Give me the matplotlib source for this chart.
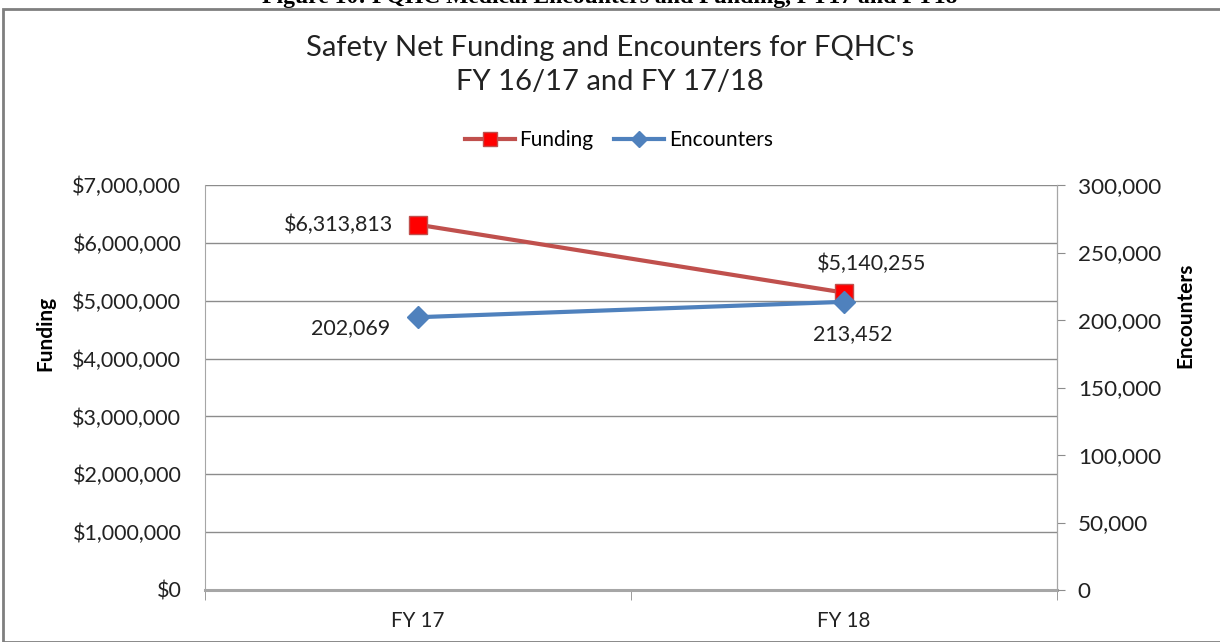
import matplotlib
matplotlib.use("Agg")
import matplotlib.pyplot as plt
from matplotlib.ticker import FuncFormatter, MultipleLocator
from matplotlib.patches import Rectangle

categories = ["FY 17", "FY 18"]
funding = [6313813, 5140255]
encounters = [202069, 213452]
funding_labels = ["$6,313,813", "$5,140,255"]
encounter_labels = ["202,069", "213,452"]

plt.rcParams['font.family'] = ['Lato', 'DejaVu Sans']

W, H = 1220, 642
fig = plt.figure(figsize=(W/100, H/100), dpi=100)

# plot area in pixels
x0, x1, y_top, y_bot = 205, 1057, 185, 590
ax = fig.add_axes([x0/W, 1 - y_bot/H, (x1-x0)/W, (y_bot-y_top)/H])
ax2 = ax.twinx()

grid_c = '#8c8c8c'
txt_c = '#222222'
ax.set_ylim(0, 7000000)
ax.set_xlim(-0.5, 1.5)
ax.yaxis.set_major_locator(MultipleLocator(1000000))
ax.yaxis.set_major_formatter(FuncFormatter(lambda v, p: "${:,.0f}".format(v)))
ax.grid(axis='y', color=grid_c, lw=1)
ax.set_axisbelow(True)
ax.set_xticks([0, 1])
ax.set_xticklabels(categories)
ax.set_xticks([-0.5, 0.5, 1.5], minor=True)
ax.tick_params(axis='x', which='major', length=0, pad=15, labelsize=14.8, colors=txt_c)
ax.tick_params(axis='x', which='minor', length=7, color=grid_c, direction='out')
ax.tick_params(axis='y', length=0, pad=17, labelsize=15.5, colors=txt_c)

ax2.set_ylim(0, 300000)
ax2.yaxis.set_major_locator(MultipleLocator(50000))
ax2.yaxis.set_major_formatter(FuncFormatter(lambda v, p: "{:,.0f}".format(v)))
ax2.tick_params(axis='y', length=6, color=grid_c, pad=9, labelsize=16.2, labelcolor=txt_c)

for a in (ax, ax2):
    for s in a.spines.values():
        s.set_color(grid_c)
    a.spines['top'].set_visible(False)
ax.spines['bottom'].set_linewidth(2.2)
ax.spines['bottom'].set_color('#a6a6a6')
ax2.spines['bottom'].set_visible(False)
ax.spines['left'].set_color('#a6a6a6')
ax2.spines['left'].set_visible(False)
ax2.spines['right'].set_color('#a6a6a6')

xs = [0, 1]
lf, = ax.plot(xs, funding, color='#C0504D', lw=3, marker='s', ms=13,
              mfc='#FF0000', mec='#C0504D', mew=1, zorder=5, label='Funding')
le, = ax2.plot(xs, encounters, color='#4F81BD', lw=3, marker='D', ms=11,
               mfc='#4F81BD', mec='#4F81BD', zorder=5, label='Encounters')

ax.annotate(funding_labels[0], (0, funding[0]), xytext=(-18, 0), textcoords='offset points',
            ha='right', va='center', fontsize=15.5, color=txt_c)
ax.annotate(funding_labels[1], (1, funding[1]), xytext=(20, 13), textcoords='offset points',
            ha='center', va='bottom', fontsize=15.5, color=txt_c)
ax2.annotate(encounter_labels[0], (0, encounters[0]), xytext=(-20, -8), textcoords='offset points',
             ha='right', va='center', fontsize=15.5, color=txt_c)
ax2.annotate(encounter_labels[1], (1, encounters[1]), xytext=(6, -23), textcoords='offset points',
             ha='center', va='center', fontsize=15.5, color=txt_c)

# axis titles placed where the reference puts them
fig.text(45/W, 1 - 333/H, "Funding", rotation=90, ha='center', va='center',
         fontsize=15, fontweight='bold', color='black')
fig.text(1185/W, 1 - 315/H, "Encounters", rotation=90, ha='center', va='center',
         fontsize=15, fontweight='bold', color='black')

fig.text(610/W, 1 - 65/H, "Safety Net Funding and Encounters for FQHC's\nFY 16/17 and FY 17/18",
         ha='center', va='center', fontsize=21, color=txt_c, linespacing=1.4)

fig.legend(handles=[lf, le], loc='center', bbox_to_anchor=(619/W, 1 - 140/H), ncol=2,
           frameon=False, fontsize=15, handlelength=2.4, columnspacing=1.0, handletextpad=0.2,
           markerscale=0.75)

# outer chart border
fig.patches.append(Rectangle((3/W, 0), 1.2, 1 - 9/H, transform=fig.transFigure,
                             fill=False, ec='#7f7f7f', lw=2))
# cut-off caption at top
fig.text(610/W, 1 + 3/H, "Figure 10: FQHC Medical Encounters and Funding, FY17 and FY18",
         ha='center', va='center', fontsize=17, fontweight='bold', family='Liberation Serif')

fig.savefig("out.png", dpi=100)
